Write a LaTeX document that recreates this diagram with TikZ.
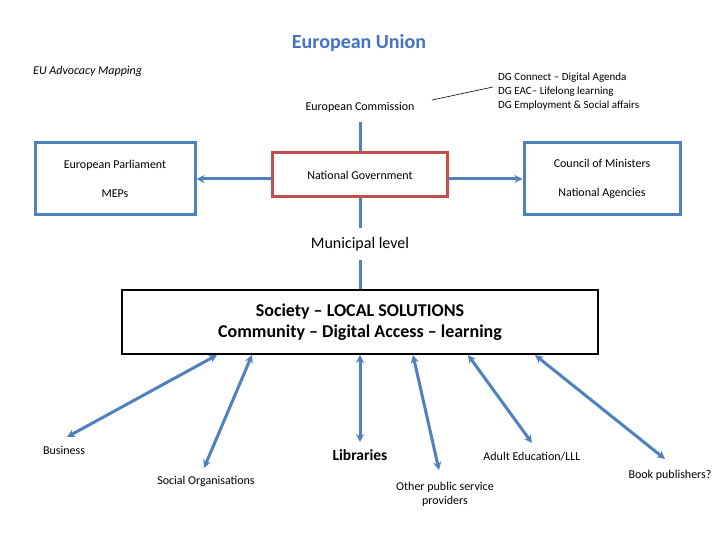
\documentclass[tikz,border=0pt]{standalone}
\usepackage{fontspec}
\setmainfont{Carlito}
\usetikzlibrary{arrows.meta,backgrounds}
\definecolor{boxblue}{HTML}{4F81BD}
\definecolor{boxred}{HTML}{C0504D}
\definecolor{titleblue}{HTML}{4472C4}
\tikzset{
  txt/.style={inner sep=0pt, font=\fontsize{12}{14}\selectfont, align=center},
  bluebox/.style={draw=boxblue, line width=3pt, align=center, inner sep=0pt,
    font=\fontsize{12}{29}\selectfont},
  conn/.style={draw=boxblue, line width=3pt},
  oneway/.style={conn, -{Stealth[length=8pt,width=8pt]}},
  twoway/.style={conn, {Stealth[length=8pt,width=8pt]}-{Stealth[length=8pt,width=8pt]}},
}
\begin{document}
\begin{tikzpicture}[x=1pt,y=-1pt]
\useasboundingbox (0,0) rectangle (720,540);

\node[txt, font=\fontsize{20}{24}\selectfont\bfseries, text=titleblue] (title) at (359,43) {European Union};
\node[txt, anchor=west, font=\fontsize{12}{14}\selectfont\itshape] (map) at (33,71) {EU Advocacy Mapping};

\node[txt, minimum height=30pt, fill=white] (ec) at (360,107) {European Commission};
\node[txt, anchor=west, align=left, font=\fontsize{11}{14}\selectfont] (dg) at (498,92)
  {DG Connect – Digital Agenda\\DG EAC– Lifelong learning\\DG Employment \& Social affairs};
\coordinate (ecr) at (432,100);
\coordinate (dgl) at (493,87);
\draw[line width=0.6pt] (ecr) -- (dgl);

\node[bluebox, minimum width=160pt, minimum height=72pt] (ep) at (115,179) {European Parliament\\MEPs};
\node[bluebox, minimum width=156pt, minimum height=72pt] (cm) at (602,179) {Council of Ministers\\National Agencies};
\node[draw=boxred, fill=white, line width=3pt, minimum width=175pt, minimum height=44pt, inner sep=0pt,
  font=\fontsize{12}{14}\selectfont] (ng) at (360,175) {National Government};

\node[txt, fill=white, minimum height=32pt, font=\fontsize{16}{18}\selectfont] (muni) at (360,244) {Municipal level};

\node[draw=black, fill=white, line width=2.6pt, minimum width=476pt, minimum height=64pt, inner sep=0pt,
  align=center, font=\fontsize{18}{21}\selectfont\bfseries] (soc) at (360,322)
  {Society – LOCAL SOLUTIONS\\Community – Digital Access – learning};

\begin{scope}[on background layer]
\fill[white] (0,0) rectangle (720,540);
\draw[conn] (ec.south) -- (ng.north) -- (ng.south) -- (muni.north) -- (muni.south) -- (soc.north);
\end{scope}

\draw[oneway] (ng.west |- ep.east) -- (ep.east);
\draw[oneway] (ng.east |- cm.west) -- (cm.west);

% bottom labels
\node[txt] (bus) at (64,450) {Business};
\node[txt] (sorg) at (206,481) {Social Organisations};
\node[txt, font=\fontsize{15.5}{18}\selectfont\bfseries] (lib) at (360,455) {Libraries};
\node[txt, font=\fontsize{12}{14}\selectfont] (oth) at (445,494) {Other public service\\providers};
\node[txt] (adu) at (532,457) {Adult Education/LLL};
\node[txt] (book) at (670,475) {Book publishers?};

\coordinate (s1) at (217,355); \coordinate (e1) at (67,437);
\coordinate (s2) at (252,355); \coordinate (e2) at (204,468);
\coordinate (s3) at (360,355); \coordinate (e3) at (360,442);
\coordinate (s4) at (413,355); \coordinate (e4) at (439,470);
\coordinate (s5) at (468,355); \coordinate (e5) at (532,443);
\coordinate (s6) at (535,355); \coordinate (e6) at (665,459);
\draw[twoway] (s1) -- (e1);
\draw[twoway] (s2) -- (e2);
\draw[twoway] (s3) -- (e3);
\draw[twoway] (s4) -- (e4);
\draw[twoway] (s5) -- (e5);
\draw[twoway] (s6) -- (e6);
\end{tikzpicture}
\end{document}
